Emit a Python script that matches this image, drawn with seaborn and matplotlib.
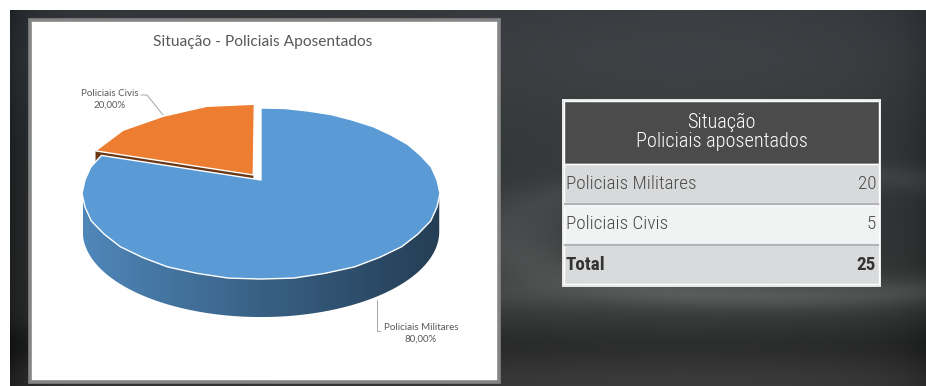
import numpy as np
import matplotlib
matplotlib.use("Agg")
import matplotlib.pyplot as plt
import seaborn as sns
from matplotlib.patches import Rectangle, Polygon
from matplotlib.path import Path
from matplotlib.transforms import Transform

# ---- data -------------------------------------------------------------
title = "Situação - Policiais Aposentados"
categories = ["Policiais Militares", "Policiais Civis"]
counts = [20, 5]
slice_colors = ["#5b9bd5", "#ed7d31"]
explode = [0.0, 0.075]
table_title = "Situação\nPoliciais aposentados"
total_label = "Total"

sns.set_theme(style="white")
plt.rcParams["font.family"] = ["Lato", "DejaVu Sans"]

W_PX, H_PX = 926, 386
fig = plt.figure(figsize=(W_PX / 100, H_PX / 100), dpi=100)
fig.patch.set_facecolor("white")


def px_axes(x0, y0, x1, y1):
    return fig.add_axes([x0 / W_PX, 1 - y1 / H_PX, (x1 - x0) / W_PX, (y1 - y0) / H_PX])


# ---- backdrop ---------------------------------------------------------
canvas = px_axes(0, 0, W_PX, H_PX)
canvas.axis("off")
Y, X = np.mgrid[10:386, 10:926].astype(float)
g = 50 + 8 * np.exp(-((X - 680) / 260) ** 2)
g -= 20 * np.exp(-(X - 10) / 25)
g -= 12 * np.exp(-(926 - X) / 30)
ring = np.sqrt(((X - 790) / 290) ** 2 + ((Y - 235) / 62) ** 2)
g += 13 * np.exp(-((ring - 1) / 0.2) ** 2)
g += 20 * np.exp(-((Y - 292) / 17) ** 2) * np.exp(-((X - 700) / 300) ** 2)
g += 9 * np.exp(-((Y - 255) / 40) ** 2) * np.exp(-((X - 530) / 60) ** 2)
g -= 13 * np.exp(-((Y - 345) / 22) ** 2)
g += 6 * np.exp(-((Y - 60) / 60) ** 2)
top = 1 - Y / 386
rgb = np.stack([g - 3 * top, g + 1, g + 5 * top], -1) / 255
canvas.imshow(np.clip(rgb, 0, 1), extent=(10, 926, 386, 10),
              interpolation="bilinear", zorder=0)
canvas.set_aspect("auto")
canvas.set_xlim(0, W_PX)
canvas.set_ylim(H_PX, 0)

# chart panel
canvas.add_patch(Rectangle((30, 20), 468.5, 361.5, facecolor="white",
                           edgecolor="#858585", lw=2.6, zorder=1))
canvas.text(263, 42, title, ha="center", va="center", fontsize=11.2,
            color="#595959", zorder=3)


# ---- 3D pie -----------------------------------------------------------
class Tilt(Transform):
    """Perspective tilt of the pie disc: the far half shrinks."""
    input_dims = output_dims = 2
    is_separable = False
    has_inverse = False

    def __init__(self, p):
        super().__init__()
        self.p = p

    def transform_non_affine(self, values):
        v = np.asarray(values, float)
        d = 1.0 + self.p * v[:, 1]
        return np.column_stack([v[:, 0] / d, v[:, 1] / d])

    def transform_path_non_affine(self, path):
        verts, codes = [], []
        for poly in path.to_polygons(closed_only=True):
            t = self.transform_non_affine(poly)
            verts.extend(t)
            codes.extend([Path.MOVETO] + [Path.LINETO] * (len(t) - 2) + [Path.CLOSEPOLY])
        return Path(np.array(verts), codes)


P = 0.158
SX, SY = 176.0, 83.4
DEPTH = 38 / SY
pie_ax = px_axes(61, 60, 461, 340)
pie_ax.patch.set_alpha(0)
pie_ax.set_zorder(2)
wedges, _ = pie_ax.pie(counts, colors=slice_colors, startangle=90,
                       counterclock=False, explode=explode,
                       wedgeprops=dict(edgecolor="white", linewidth=1.0))
pie_ax.set_aspect("auto")
tilt = Tilt(P)
for w in wedges:
    w.set_transform(tilt + pie_ax.transData)
    w.set_zorder(3)

phi = np.degrees(np.arcsin(P))
front = (-180 + phi, -phi)


def front_span(w):
    for k in (-720, -360, 0, 360):
        lo = max(w.theta1 + k, front[0])
        hi = min(w.theta2 + k, front[1])
        if hi > lo:
            return lo, hi
    return None


for w, col in zip(wedges, slice_colors):
    base = np.array(matplotlib.colors.to_rgb(col))
    cx, cy = w.center
    span = front_span(w)
    if span:
        t = np.radians(np.linspace(span[0], span[1], 240))
        rim = tilt.transform(np.column_stack([cx + w.r * np.cos(t), cy + w.r * np.sin(t)]))
        low = rim - [0, DEPTH]
        side = Polygon(np.vstack([rim, low[::-1]]), closed=True,
                       facecolor="none", edgecolor="none")
        pie_ax.add_patch(side)
        cmap = sns.blend_palette([base * 0.87, base * 0.62, base * 0.40], as_cmap=True)
        im = pie_ax.imshow(np.linspace(0, 1, 256)[None, :], cmap=cmap,
                           extent=(rim[:, 0].min(), rim[:, 0].max(),
                                   low[:, 1].min(), rim[:, 1].max()),
                           aspect="auto", interpolation="bilinear", zorder=1)
        im.set_clip_path(side)
    # radial faces turned toward the viewer
    for ang, normal in ((w.theta1, w.theta1 - 90), (w.theta2, w.theta2 + 90)):
        if np.sin(np.radians(normal)) < -1e-6:
            a = np.radians(ang)
            pts = tilt.transform(np.array([[cx, cy],
                                           [cx + w.r * np.cos(a), cy + w.r * np.sin(a)]]))
            quad = np.vstack([pts, pts[::-1] - [0, DEPTH]])
            pie_ax.add_patch(Polygon(quad, closed=True, facecolor=base * 0.45,
                                     edgecolor="none", zorder=2))

pie_ax.set_xlim(-200 / SX, 200 / SX)
pie_ax.set_ylim(-160 / SY, 120 / SY)
pie_ax.axis("off")

# slice labels with leader lines
total = sum(counts)
pct = [f"{c / total * 100:.2f}".replace(".", ",") + "%" for c in counts]
label_pos = [(421, 333), (110, 99)]
leaders = [([380, 377, 377], [331, 331, 300]), ([141, 147, 163], [95, 95, 115])]
for cat, p, (lx, ly), (xs, ys) in zip(categories, pct, label_pos, leaders):
    canvas.text(lx, ly, f"{cat}\n{p}", ha="center", va="center", fontsize=7.0,
                color="#595959", linespacing=1.35, zorder=3)
    canvas.plot(xs, ys, color="#a6a6a6", lw=0.7, zorder=3)

# ---- table ------------------------------------------------------------
tab_font = ["Roboto Condensed", "Liberation Sans Narrow", "DejaVu Sans"]
tab = px_axes(562, 99, 881, 287)
tab.set_zorder(2)
tab.axis("off")
rows = categories + [total_label]
values = counts + [total]
row_colors = ["#d8d9da", "#f1f3f3", "#d9dadb"]
tab.add_patch(Rectangle((0, -2.1), 1, 4.65, facecolor="#dedfe0",
                        edgecolor="#e8e8e8", lw=2))
tab.barh(-1.275, 0.985, left=0.0075, height=1.55, color="#4b4b4b")
tab.barh(range(len(rows)), 0.985, left=0.0075, height=0.96, color=row_colors)
tab.hlines([0.5, 1.5], 0.0075, 0.9925, color="#b3b4ba", lw=1.6)
tab.text(0.5, -1.275, table_title, ha="center", va="center", color="white",
         fontsize=14.6, family=tab_font, weight="light", linespacing=1.0)
for i, (name, val) in enumerate(zip(rows, values)):
    bold = name == total_label
    kw = dict(va="center", fontsize=13.8, family=tab_font,
              color="#333333" if bold else "#4a4a4a",
              weight="bold" if bold else "light")
    tab.text(0.012, i, name, ha="left", **kw)
    tab.text(0.985, i, str(val), ha="right", **kw)
tab.set_xlim(0, 1)
tab.set_ylim(2.55, -2.1)

fig.savefig("out.png", dpi=100)
